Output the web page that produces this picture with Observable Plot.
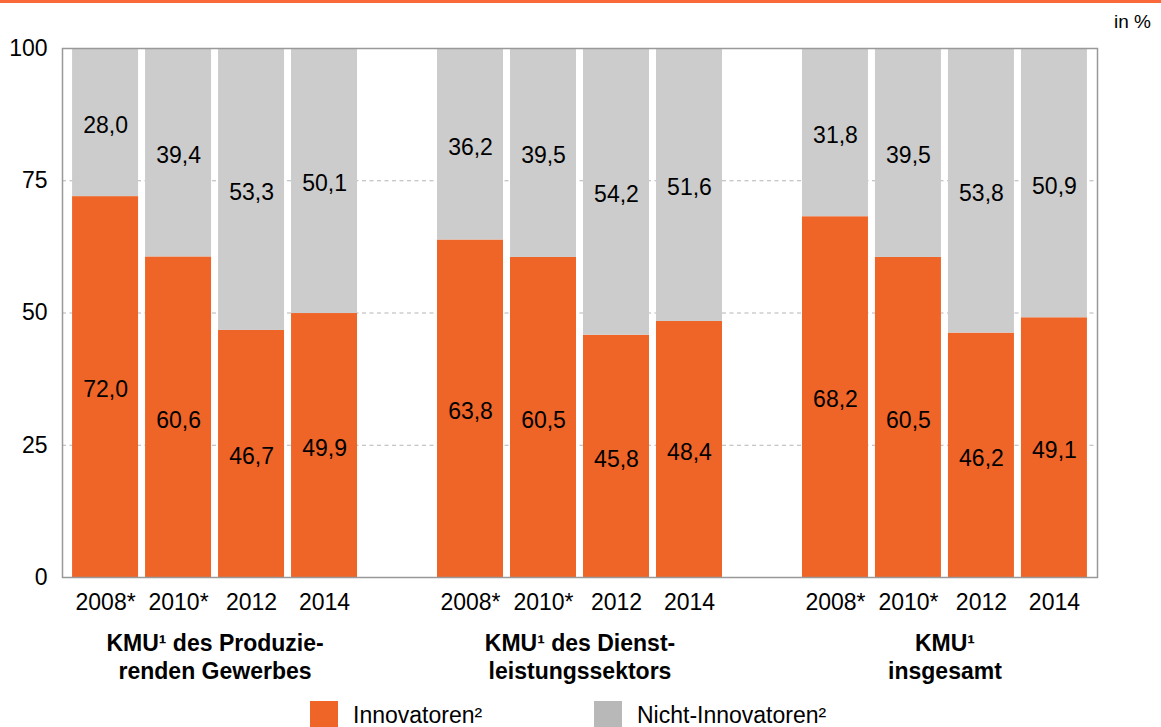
<!DOCTYPE html>
<html><head><meta charset="utf-8">
<script src="https://cdn.jsdelivr.net/npm/d3@7"></script>
<script src="https://cdn.jsdelivr.net/npm/@observablehq/plot@0.6"></script>
<style>
body{margin:0;background:#fff;font-family:"Liberation Sans",Arial,sans-serif;color:#000;}
#wrap{position:relative;width:1161px;height:727px;overflow:hidden;}
#topline{position:absolute;left:0;top:0;width:1161px;height:3px;background:#f9693a;z-index:2;}
#unit{position:absolute;left:1114px;top:12px;font-size:19px;line-height:19px;}
#chart{position:absolute;left:0;top:0;}
.leg{position:absolute;top:701px;display:flex;align-items:flex-start;font-size:23px;line-height:23px;white-space:nowrap;}
.sw{width:28px;height:28px;margin-right:15px;}
.leg span{margin-top:2.5px;}
</style></head><body>
<div id="wrap">
  <div id="chart"></div>
  <div id="topline"></div>
  <div id="unit">in %</div>
  <div id="legend"></div>
</div>
<script>
const groups = ["KMU¹ des Produzie-\nrenden Gewerbes", "KMU¹ des Dienst-\nleistungssektors", "KMU¹\ninsgesamt"];
const years = ["2008*", "2010*", "2012", "2014"];
const innovatoren = [
  [72.0, 60.6, 46.7, 49.9],
  [63.8, 60.5, 45.8, 48.4],
  [68.2, 60.5, 46.2, 49.1]
];
const nichtInnovatoren = [
  [28.0, 39.4, 53.3, 50.1],
  [36.2, 39.5, 54.2, 51.6],
  [31.8, 39.5, 53.8, 50.9]
];
const seriesNames = ["Innovatoren²", "Nicht-Innovatoren²"];
const seriesColors = ["#ef6427", "#cccccc"];
const legendColors = ["#ef6427", "#b8b8b8"];
const yTicks = [0, 25, 50, 75, 100];
const gridTicks = [25, 50, 75];

const slotsPerGroup = years.length + 1;
const rows = [];
const yearOfSlot = new Map();
groups.forEach((g, gi) => years.forEach((yr, yi) => {
  const slot = gi * slotsPerGroup + yi;
  yearOfSlot.set(slot, yr);
  const a = innovatoren[gi][yi], b = nichtInnovatoren[gi][yi];
  rows.push({slot, year: yr, group: g, series: seriesNames[0], value: a, y1: 0, y2: a});
  rows.push({slot, year: yr, group: g, series: seriesNames[1], value: b, y1: a, y2: a + b});
}));
const slotTicks = [...yearOfSlot.keys()];
const lastSlot = d3.max(slotTicks);
const groupRows = groups.map((g, gi) => ({
  label: g,
  center: d3.mean(years, (_, yi) => gi * slotsPerGroup + yi)
}));
const fmt = v => v.toFixed(1).replace(".", ",");

const chart = Plot.plot({
  width: 1161, height: 695,
  marginTop: 48, marginBottom: 118, marginLeft: 62, marginRight: 64,
  style: {fontFamily: '"Liberation Sans", Arial, sans-serif', fontSize: "23px", color: "#000", background: "transparent"},
  x: {type: "linear", domain: [-0.59, lastSlot + 0.59]},
  y: {domain: [0, 100]},
  color: {domain: seriesNames, range: seriesColors},
  marks: [
    Plot.ruleY(gridTicks, {stroke: "#b5b5b5", strokeDasharray: "4,3.5", strokeWidth: 1}),
    Plot.rectY(rows, {x1: d => d.slot - 0.5, x2: d => d.slot + 0.5, y1: "y1", y2: "y2", fill: "series", insetLeft: 3.5, insetRight: 3.5}),
    Plot.text(rows, {x: "slot", y: d => (d.y1 + d.y2) / 2, text: d => fmt(d.value), fontSize: 23, fill: "#000", dy: 3}),
    Plot.frame({stroke: "#999", strokeWidth: 1.5}),
    Plot.axisY({ticks: yTicks, tickSize: 0, tickPadding: 15, fontSize: 23, tickFormat: d => String(d)}),
    Plot.axisX({ticks: slotTicks, tickFormat: s => yearOfSlot.get(s), tickSize: 0, tickPadding: 16, fontSize: 23}),
    Plot.text(groupRows, {x: "center", text: "label", frameAnchor: "bottom", lineAnchor: "top", dy: 53, fontWeight: "bold", fontSize: 23, lineHeight: 1.24, fill: "#000"})
  ]
});
document.getElementById("chart").appendChild(chart);

const legend = document.getElementById("legend");
const legendLeft = [310, 594];
seriesNames.forEach((name, i) => {
  const item = document.createElement("div");
  item.className = "leg";
  item.style.left = legendLeft[i] + "px";
  const sw = document.createElement("div");
  sw.className = "sw";
  sw.style.background = legendColors[i];
  const label = document.createElement("span");
  label.textContent = name;
  item.appendChild(sw);
  item.appendChild(label);
  legend.appendChild(item);
});
</script>
</body></html>
